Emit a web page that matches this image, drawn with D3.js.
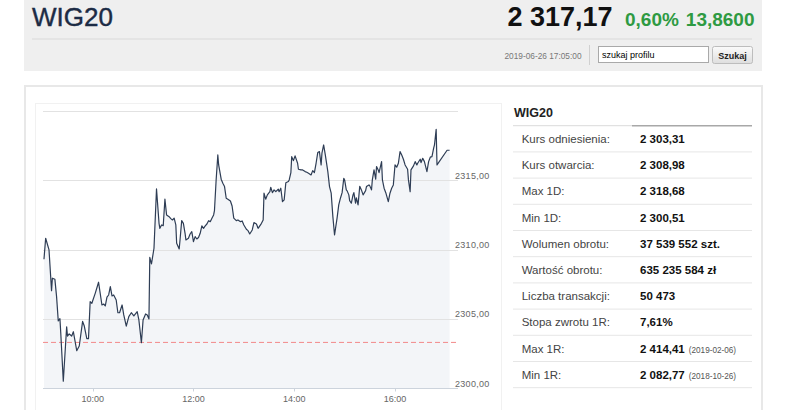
<!DOCTYPE html>
<html><head><meta charset="utf-8">
<script src="https://cdn.jsdelivr.net/npm/d3@7"></script>
<style>
html,body{margin:0;padding:0;background:#fff;overflow:hidden}
svg{display:block}
text{font-family:"Liberation Sans",Arial,sans-serif}
</style></head><body>
<svg id="c" width="786" height="410"></svg>
<script>
// ---------- data ----------
const headerName = "WIG20";
const lastPrice = "2 317,17";
const changePct = "0,60%";
const changeAbs = "13,8600";
const stamp = "2019-06-26 17:05:00";
const searchPlaceholder = "szukaj profilu";
const searchButton = "Szukaj";

const times = [
"09:02","09:04","09:08","09:11","09:12","09:15","09:17","09:19","09:21","09:22",
"09:25","09:29","09:30","09:32","09:35","09:37","09:41","09:44","09:48","09:50",
"09:53","09:55","09:57","09:59","10:03","10:07","10:11","10:13","10:15","10:17",
"10:19","10:21","10:23","10:25","10:28","10:30","10:32","10:35","10:37","10:40",
"10:43","10:46","10:49","10:53","10:55","10:58","11:00","11:03","11:05","11:07",
"11:08","11:10","11:13","11:16","11:19","11:20","11:22","11:24","11:26","11:28",
"11:31","11:33","11:35","11:37","11:39","11:40","11:43","11:44","11:46","11:48",
"11:50","11:51","11:54","11:56","11:58","12:00","12:02","12:04","12:06","12:08",
"12:10","12:12","12:14","12:16","12:18","12:20","12:22","12:24","12:25","12:27",
"12:29","12:30","12:33","12:35","12:37","12:39","12:41","12:44","12:46","12:48",
"12:51","12:53","12:56","12:58","13:00","13:03","13:05","13:07","13:10","13:12",
"13:15","13:17","13:21","13:23","13:24","13:26","13:28","13:31","13:32","13:34",
"13:36","13:38","13:41","13:42","13:44","13:46","13:48","13:50","13:53","13:54",
"13:56","13:57","13:59","14:01","14:04","14:05","14:08","14:10","14:13","14:15",
"14:17","14:20","14:22","14:24","14:26","14:28","14:30","14:32","14:33","14:35",
"14:37","14:40","14:42","14:44","14:46","14:48","14:51","14:53","14:55","14:57",
"14:59","15:00","15:02","15:03","15:05","15:06","15:08","15:10","15:11","15:13",
"15:14","15:16","15:18","15:20","15:22","15:25","15:26","15:29","15:30","15:32",
"15:33","15:35","15:37","15:38","15:40","15:41","15:44","15:45","15:47","15:49",
"15:52","15:54","15:56","15:58","16:00","16:02","16:04","16:06","16:08","16:10",
"16:12","16:15","16:16","16:18","16:19","16:22","16:24","16:26","16:27","16:30",
"16:31","16:33","16:35","16:38","16:40","16:42","16:44","16:46","16:47","16:49",
"16:50","17:02","17:05"
];
const values = [
2309.31,2310.82,2309.98,2307.04,2307.94,2307.86,2306.61,2304.86,2305.02,2303.97,
2300.51,2304.44,2303.77,2303.92,2303.77,2304.08,2302.71,2303.05,2304.83,2304.49,
2303.58,2303.58,2306.25,2306.13,2306.85,2307.65,2306.01,2306.08,2305.94,2306.57,
2306.73,2307.33,2306.66,2306.73,2306.37,2305.45,2305.45,2306.01,2305.29,2304.49,
2305.17,2305.45,2305.22,2305.53,2304.93,2303.29,2304.93,2305.36,2305.29,2305.00,
2309.45,2308.97,2310.10,2314.38,2311.90,2311.54,2311.78,2311.73,2313.64,2312.50,
2312.38,2312.24,2312.14,2312.27,2311.78,2310.46,2310.05,2310.70,2312.09,2311.90,
2311.18,2310.70,2310.82,2311.13,2311.30,2310.58,2310.94,2310.77,2310.87,2311.18,
2311.71,2311.54,2311.71,2311.85,2312.09,2312.02,2312.27,2312.50,2312.81,2315.03,
2316.83,2316.11,2315.08,2314.79,2314.55,2313.71,2313.64,2313.51,2313.15,2312.27,
2312.09,2312.14,2312.02,2312.07,2311.78,2311.47,2311.37,2311.13,2311.42,2311.95,
2311.85,2311.54,2311.90,2312.14,2314.07,2313.64,2313.95,2314.18,2314.50,2314.11,
2314.31,2314.18,2314.36,2314.18,2314.43,2313.46,2313.59,2314.83,2314.91,2315.03,
2315.56,2316.71,2316.42,2316.76,2316.23,2315.80,2315.75,2315.75,2315.63,2315.58,
2315.51,2315.39,2315.70,2315.56,2316.23,2317.00,2317.07,2316.11,2316.96,2317.55,
2316.83,2315.63,2314.55,2314.07,2312.38,2311.06,2312.27,2313.23,2313.71,2314.11,
2315.15,2315.03,2314.31,2314.24,2313.95,2313.54,2313.35,2313.95,2314.11,2313.35,
2313.73,2313.23,2314.57,2314.31,2313.95,2314.26,2314.55,2314.67,2314.60,2314.31,
2315.03,2315.75,2315.08,2315.99,2315.75,2315.56,2316.35,2315.03,2314.43,2314.11,
2313.46,2314.07,2314.43,2314.67,2316.11,2315.95,2316.23,2317.07,2316.83,2316.52,
2316.11,2315.80,2315.03,2314.18,2315.75,2316.04,2316.35,2316.11,2316.23,2316.52,
2316.28,2316.59,2316.35,2315.63,2316.35,2316.67,2316.71,2317.32,2317.55,2318.68,
2316.11,2317.17,2317.17
];
const refValue = 2303.31;
const timeDomain = ["09:00","17:15"];
const yDomain = [2300, 2320];
const yTicks = [2300, 2305, 2310, 2315, 2320];
const yTickShown = [true, true, true, true, false];
const xTicks = ["10:00","12:00","14:00","16:00"];

const tableTitle = "WIG20";
const statLabels = ["Kurs odniesienia:","Kurs otwarcia:","Max 1D:","Min 1D:","Wolumen obrotu:","Wartość obrotu:","Liczba transakcji:","Stopa zwrotu 1R:","Max 1R:","Min 1R:"];
const statValues = ["2 303,31","2 308,98","2 318,68","2 300,51","37 539 552 szt.","635 235 584 zł","50 473","7,61%","2 414,41","2 082,77"];
const statNotes  = ["","","","","","","","","(2019-02-06)","(2018-10-26)"];

// ---------- drawing ----------
const svg = d3.select("#c");
const parse = d3.timeParse("%H:%M");

const defs = svg.append("defs");
const grad = defs.append("linearGradient").attr("id","btn").attr("x1",0).attr("x2",0).attr("y1",0).attr("y2",1);
grad.append("stop").attr("offset","0").attr("stop-color","#fbfbfb");
grad.append("stop").attr("offset","1").attr("stop-color","#dedede");

// header box
svg.append("rect").attr("x",24).attr("y",0).attr("width",738).attr("height",71).attr("fill","#efefef");
svg.append("line").attr("x1",32).attr("x2",752).attr("y1",39).attr("y2",39).attr("stroke","#d9d9d9");
svg.append("text").attr("x",32).attr("y",26).text(headerName)
  .style("font-size","26px").attr("fill","#1c2b45")
  .attr("stroke","#1c2b45").attr("stroke-width",0.4);
svg.append("text").attr("x",612.5).attr("y",26).attr("text-anchor","end").text(lastPrice)
  .style("font-weight","bold").style("font-size","27px").attr("fill","#111");
svg.append("text").attr("x",625).attr("y",26).text(changePct)
  .style("font-weight","bold").style("font-size","19px").attr("fill","#2e9a42");
svg.append("text").attr("x",754.5).attr("y",26).attr("text-anchor","end").text(changeAbs)
  .style("font-weight","bold").style("font-size","19px").attr("fill","#2e9a42");
svg.append("text").attr("x",581.5).attr("y",59).attr("text-anchor","end").text(stamp)
  .style("font-size","8.5px").attr("fill","#777").attr("textLength",77).attr("lengthAdjust","spacingAndGlyphs");
svg.append("line").attr("x1",589.5).attr("x2",589.5).attr("y1",45).attr("y2",65).attr("stroke","#d0d0d0");
svg.append("rect").attr("x",598.5).attr("y",46.5).attr("width",110).attr("height",16).attr("fill","#fff").attr("stroke","#a9a9a9");
svg.append("text").attr("x",602).attr("y",58).text(searchPlaceholder).style("font-size","9px").attr("fill","#000");
svg.append("rect").attr("x",712.5).attr("y",46.5).attr("width",40).attr("height",17).attr("rx",2).attr("fill","url(#btn)").attr("stroke","#bdbdbd");
svg.append("text").attr("x",732.5).attr("y",58.5).attr("text-anchor","middle").text(searchButton)
  .style("font-size","9px").style("font-weight","bold").attr("fill","#222");

// main panel
svg.append("rect").attr("x",25).attr("y",86).attr("width",737).attr("height",340).attr("fill","#fff").attr("stroke","#e8e8e8").attr("stroke-width",2);
svg.append("rect").attr("x",35.5).attr("y",103.5).attr("width",466).attr("height",330).attr("fill","none").attr("stroke","#f1f1f1");

// scales
const x = d3.scaleTime().domain(timeDomain.map(parse)).range([42.3, 458]);
const y = d3.scaleLinear().domain(yDomain).range([388.3, 111]);
const data = times.map((t,i)=>({t:parse(t), v:values[i]}));
const x0 = 43, x1 = 458;

// area
svg.append("path").datum(data)
  .attr("d", d3.area().x(d=>x(d.t)).y0(y(yDomain[0])).y1(d=>y(d.v)))
  .attr("fill","#f3f5f8");

// grid
svg.append("g").selectAll("line").data(yTicks.slice(1)).join("line")
  .attr("x1",x0).attr("x2",x1).attr("y1",d=>Math.round(y(d))+0.5).attr("y2",d=>Math.round(y(d))+0.5)
  .attr("stroke","#e2e2e2");

// reference dashed line
svg.append("line").attr("x1",x0).attr("x2",x1).attr("y1",y(refValue)).attr("y2",y(refValue))
  .attr("stroke","#f28a8a").attr("stroke-dasharray","5,3").attr("stroke-width",1);

// price line
svg.append("path").datum(data)
  .attr("d", d3.line().x(d=>x(d.t)).y(d=>y(d.v)))
  .attr("fill","none").attr("stroke","#2e3d55").attr("stroke-width",1.2).attr("stroke-linejoin","round");

// bottom axis
const by = Math.round(y(yDomain[0]))+0.5;
svg.append("line").attr("x1",x0).attr("x2",x1).attr("y1",by).attr("y2",by).attr("stroke","#ccd3dc");
const xt = svg.append("g");
xt.selectAll("line").data(xTicks).join("line")
  .attr("x1",d=>Math.round(x(parse(d)))+0.5).attr("x2",d=>Math.round(x(parse(d)))+0.5)
  .attr("y1",by).attr("y2",by+3).attr("stroke","#ccd3dc");
xt.selectAll("text").data(xTicks).join("text")
  .attr("x",d=>x(parse(d))).attr("y",402).attr("text-anchor","middle").text(d=>d)
  .style("font-size","9px").attr("fill","#666");

// y labels
const fmt = v => d3.format(".2f")(v).replace(".", ",");
svg.append("g").selectAll("text").data(yTicks.filter((d,i)=>yTickShown[i])).join("text")
  .attr("x",455).attr("y",d=>y(d)-1.5).text(fmt)
  .style("font-size","9px").style("letter-spacing","0.3px").attr("fill","#666");

// table
const tx0 = 513, tx1 = 752;
svg.append("text").attr("x",514).attr("y",116.5).text(tableTitle)
  .style("font-size","12.5px").style("font-weight","bold").attr("fill","#222");
svg.append("line").attr("x1",tx0).attr("x2",632).attr("y1",125.7).attr("y2",125.7).attr("stroke","#dadada");
svg.append("line").attr("x1",632).attr("x2",tx1).attr("y1",125.7).attr("y2",125.7).attr("stroke","#a8a8a8").attr("stroke-width",1.6);
const rowH = 26.2, rowTop = 125.7;
const rows = svg.append("g").selectAll("g").data(statLabels).join("g")
  .attr("transform",(d,i)=>`translate(0,${rowTop + i*rowH})`);
rows.append("line").attr("x1",tx0).attr("x2",tx1).attr("y1",rowH).attr("y2",rowH).attr("stroke","#e6e6e6");
rows.append("text").attr("x",521.7).attr("y",17.3).text(d=>d).style("font-size","11.5px").attr("fill","#444");
rows.append("text").attr("class","val").attr("x",640).attr("y",17.3).text((d,i)=>statValues[i])
  .style("font-size","11.5px").style("font-weight","bold").attr("fill","#111");
rows.each(function(d,i){
  if(!statNotes[i]) return;
  const g = d3.select(this);
  const w = g.select("text.val").node().getComputedTextLength();
  g.append("text").attr("x",640 + w + 4).attr("y",17.3).text(statNotes[i])
    .style("font-size","8.2px").attr("fill","#555");
});
</script>
</body></html>
